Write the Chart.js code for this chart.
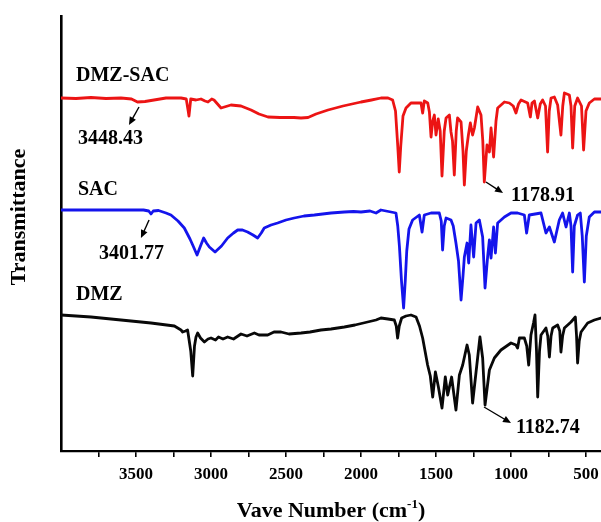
<!DOCTYPE html>
<html>
<head>
<meta charset="utf-8">
<script src="https://cdn.jsdelivr.net/npm/chart.js@4.4.1/dist/chart.umd.min.js"></script>
<style>
html,body{margin:0;padding:0;background:#fff;}
#wrap{width:601px;height:522px;position:relative;}
canvas{display:block;}
</style>
</head>
<body>
<div id="wrap"><canvas id="c" width="601" height="522"></canvas></div>
<script>
// ---- Data (wavenumber in cm-1, transmittance in arbitrary offset units) ----
const seriesNames = ['DMZ-SAC', 'SAC', 'DMZ'];

const dmzSacWavenumber = [4000,3900,3800,3700,3600,3530,3490,3440,3380,3300,3200,3165,3152,3147,3142,3135,3100,3067,3040,3020,2995,2980,2933,2867,2800,2733,2680,2620,2540,2447,2400,2353,2300,2220,2120,2000,1930,1867,1820,1789,1770,1755,1745,1735,1720,1700,1667,1600,1589,1578,1555,1544,1533,1522,1511,1500,1485,1472,1460,1445,1433,1411,1400,1390,1378,1365,1356,1333,1320,1311,1298,1284,1271,1256,1244,1222,1200,1188,1178,1160,1144,1133,1116,1100,1089,1044,1011,985,967,950,933,889,871,860,844,822,805,789,770,756,745,733,711,689,667,655,644,611,600,589,575,556,530,516,500,478,444,400];
const dmzSacTransmittance = [353,352.5,353.5,352.5,353,352,349,349.5,351,353,353,352,340,335,342,352,351,352,350,349,352,351,343,346,345,341,337,334,333.5,333.5,333,333.5,337,341,345,349,351,353,353,351,340,305,279,305,335,343,348,348,338,350,348,339,314,330,336,316,332,320,275,320,333,336,319,310,276,320,333,329,300,266,300,316,328,316,323,344,336,310,269,306,299,323,294,330,343,349,348,345,338,347,351,348,334,348,350,333,347,351,345,299,340,353,354,346,316,345,358,356,345,303,345,353,345,301,340,348,352,352];

const sacWavenumber = [4000,3800,3600,3450,3415,3400,3385,3350,3300,3267,3220,3178,3140,3122,3093,3070,3049,3030,3011,2973,2930,2889,2850,2822,2790,2756,2720,2689,2665,2645,2600,2556,2500,2445,2380,2311,2200,2111,2050,2000,1940,1900,1867,1800,1767,1755,1744,1730,1716,1705,1695,1680,1656,1611,1593,1578,1533,1478,1465,1456,1445,1433,1400,1385,1367,1350,1333,1320,1311,1293,1282,1267,1249,1233,1211,1189,1173,1156,1144,1133,1116,1104,1089,1044,1000,956,911,896,878,800,767,744,711,678,656,633,611,600,589,578,556,538,525,511,498,478,444,400];
const sacTransmittance = [241,241,241,241,240,237,240,240.5,238,236,230,223,212,206,196,205,213,208,204,199,205,213,218,221,221,219,216,213,218,223,226,228,231,233,235,236,238,239,239.5,239,240,238,241,239,238,225,205,170,143,170,200,222,231,236,219,236,238,238,230,201,225,233,231,225,208,190,151,175,194,208,188,226,194,228,231,214,163,194,211,193,224,198,228,234,238,238,236,218,236,238,218,224,209,231,238,224,238,225,179,225,236,238,215,169,215,234,239,239];

const dmzWavenumber = [4000,3800,3600,3400,3244,3200,3189,3170,3156,3135,3122,3110,3100,3089,3070,3044,3020,3000,2970,2950,2920,2889,2850,2800,2760,2711,2680,2622,2580,2533,2480,2400,2340,2267,2200,2111,2040,1956,1900,1867,1820,1778,1765,1756,1745,1729,1700,1667,1633,1610,1589,1556,1538,1522,1504,1484,1460,1438,1422,1396,1367,1344,1322,1293,1278,1256,1233,1207,1189,1173,1144,1111,1067,1000,967,956,944,911,895,882,867,850,840,830,822,810,800,767,755,744,733,722,689,675,667,656,644,600,571,563,556,545,533,489,444,400];
const dmzTransmittance = [136,134,131,128,125,121,119,120,121,100,75,105,114,118,113,109,112,113,111,114,112,114,112,117,115,118,116,116,119,119,117,118,119,121,122,124,126,129,131,133,132,131,125,113,125,133,135,136,134,125,113,86,75,54,79,64,43,74,56,74,41,76,86,106,96,48,79,114,93,46,81,93,101,108,106,103,113,113,105,86,116,128,136,100,54,100,116,123,115,94,115,123,126,120,99,115,123,129,134,115,88,110,119,128,131,133];

const xTickLabels = [3500, 3000, 2500, 2000, 1500, 1000, 500];
const xTickMarks = [3750, 3500, 3250, 3000, 2750, 2500, 2250, 2000, 1750, 1500, 1250, 1000, 750, 500];

const seriesColors = ['rgb(236,20,20)', 'rgb(20,20,236)', 'rgb(8,8,8)'];

const peakLabels = ['3448.43', '3401.77', '1178.91', '1182.74'];

// ---- Build datasets ----
function pairs(xs, ys) { return xs.map((x, i) => ({ x: x, y: ys[i] })); }
const allSeries = [
  pairs(dmzSacWavenumber, dmzSacTransmittance),
  pairs(sacWavenumber, sacTransmittance),
  pairs(dmzWavenumber, dmzTransmittance)
];

const SERIF = '"Liberation Serif", "Times New Roman", serif';

// ---- Annotation / title plugin ----
const decorPlugin = {
  id: 'decor',
  afterDraw(chart) {
    const ctx = chart.ctx;
    const xs = chart.scales.x, ys = chart.scales.y;
    const px = v => xs.getPixelForValue(v);
    const py = v => ys.getPixelForValue(v);
    ctx.save();
    ctx.fillStyle = '#000';
    ctx.strokeStyle = '#000';

    // series name labels
    ctx.font = 'bold 20px ' + SERIF;
    ctx.textAlign = 'left';
    ctx.textBaseline = 'middle';
    ctx.fillText(seriesNames[0], px(3900), py(375));
    ctx.fillText(seriesNames[1], px(3887), py(261));
    ctx.fillText(seriesNames[2], px(3900), py(156));

    // peak labels
    ctx.fillText(peakLabels[0], px(3887), py(312));
    ctx.fillText(peakLabels[1], px(3747), py(197));
    ctx.fillText(peakLabels[2], px(1000), py(255));
    ctx.fillText(peakLabels[3], px(967), py(23));

    function arrow(w1, t1, w2, t2) {
      const x1 = px(w1), y1 = py(t1), x2 = px(w2), y2 = py(t2);
      const ang = Math.atan2(y2 - y1, x2 - x1);
      const hl = 8, hw = 3.5;
      ctx.lineWidth = 1.4;
      ctx.beginPath();
      ctx.moveTo(x1, y1);
      ctx.lineTo(x2 - Math.cos(ang) * hl * 0.8, y2 - Math.sin(ang) * hl * 0.8);
      ctx.stroke();
      ctx.beginPath();
      ctx.moveTo(x2, y2);
      ctx.lineTo(x2 - Math.cos(ang) * hl + Math.sin(ang) * hw, y2 - Math.sin(ang) * hl - Math.cos(ang) * hw);
      ctx.lineTo(x2 - Math.cos(ang) * hl - Math.sin(ang) * hw, y2 - Math.sin(ang) * hl + Math.cos(ang) * hw);
      ctx.closePath();
      ctx.fill();
    }
    arrow(3480, 344, 3547, 326);
    arrow(3413, 231, 3467, 213);
    arrow(1167, 269, 1053, 258);
    arrow(1180, 44, 1000, 28);

    // y axis title
    ctx.save();
    ctx.translate(19, 217);
    ctx.rotate(-Math.PI / 2);
    ctx.font = 'bold 22px ' + SERIF;
    ctx.textAlign = 'center';
    ctx.textBaseline = 'middle';
    ctx.fillText('Transmittance', 0, 0);
    ctx.restore();

    // x axis title with superscript
    const mainFont = 'bold 22px ' + SERIF;
    const supFont = 'bold 13px ' + SERIF;
    const p1 = 'Vave Number (cm', p2 = '-1', p3 = ')';
    ctx.font = mainFont; const w1 = ctx.measureText(p1).width; const w3 = ctx.measureText(p3).width;
    ctx.font = supFont; const w2 = ctx.measureText(p2).width;
    const total = w1 + w2 + w3;
    let x0 = (chart.chartArea.left + chart.chartArea.right) / 2 - total / 2;
    const base = 517;
    ctx.textAlign = 'left';
    ctx.textBaseline = 'alphabetic';
    ctx.font = mainFont; ctx.fillText(p1, x0, base);
    ctx.font = supFont; ctx.fillText(p2, x0 + w1, base - 9);
    ctx.font = mainFont; ctx.fillText(p3, x0 + w1 + w2, base);
    ctx.restore();
  }
};

new Chart(document.getElementById('c'), {
  type: 'line',
  data: {
    datasets: allSeries.map((d, i) => ({
      label: seriesNames[i],
      data: d,
      borderColor: seriesColors[i],
      backgroundColor: seriesColors[i],
      borderWidth: 2.8,
      pointRadius: 0,
      fill: false,
      tension: 0,
      borderJoinStyle: 'round',
      borderCapStyle: 'round'
    }))
  },
  options: {
    responsive: false,
    animation: false,
    devicePixelRatio: 1,
    layout: { padding: { top: 16, left: 0, right: 0, bottom: 0 } },
    plugins: { legend: { display: false }, tooltip: { enabled: false }, title: { display: false } },
    scales: {
      x: {
        type: 'linear',
        reverse: true,
        min: 400,
        max: 4000,
        afterBuildTicks: s => { s.ticks = xTickMarks.map(v => ({ value: v })); },
        afterFit: s => { s.height = 71; s.paddingLeft = 0; s.paddingRight = 0; },
        ticks: {
          autoSkip: false,
          maxRotation: 0,
          padding: 7,
          color: '#000',
          font: { family: SERIF, size: 17, weight: 'bold' },
          callback: v => xTickLabels.includes(v) ? String(v) : ''
        },
        grid: { display: true, drawOnChartArea: false, drawTicks: true, tickLength: 6, color: '#000', lineWidth: 1.6 },
        border: { display: true, color: '#000', width: 2.2 }
      },
      y: {
        min: 0,
        max: 435,
        afterFit: s => { s.width = 61; s.paddingTop = 0; s.paddingBottom = 0; },
        ticks: { display: false },
        grid: { display: false },
        border: { display: true, color: '#000', width: 2.6 }
      }
    }
  },
  plugins: [decorPlugin]
});
</script>
</body>
</html>
